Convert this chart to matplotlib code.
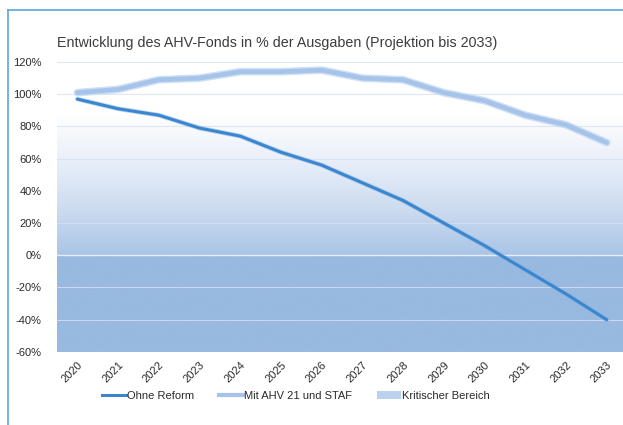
import numpy as np
import matplotlib
matplotlib.use("Agg")
import matplotlib.pyplot as plt
from matplotlib.colors import LinearSegmentedColormap
from matplotlib.patches import Patch
from matplotlib.lines import Line2D

plt.rcParams['font.family'] = ['Liberation Sans', 'DejaVu Sans']

# Daten
jahre = ['2020', '2021', '2022', '2023', '2024', '2025', '2026',
         '2027', '2028', '2029', '2030', '2031', '2032', '2033']
ohne_reform = [97, 91, 87, 79, 74, 64, 56, 45, 34, 20, 6, -9, -24, -40]
mit_ahv21_staf = [101, 103, 109, 110, 114, 114, 115, 110, 109, 101, 96, 87, 81, 70]
y_ticks = [-60, -40, -20, 0, 20, 40, 60, 80, 100, 120]

fig = plt.figure(figsize=(6.23, 4.25), dpi=100)
ax = fig.add_axes([0.0915, 0.172, 0.915, 0.682])

x = np.arange(len(jahre))
ax.set_xlim(-0.5, len(jahre) - 0.5)
ax.set_ylim(-60, 120)

# Kritischer Bereich: Verlauf von weiss (oben) nach blau (0% und darunter)
cmap = LinearSegmentedColormap.from_list('krit', ['#ffffff', '#e9eff9', '#cddcf0', '#aac5e7'])
yy = np.linspace(120, -60, 400)
vals = np.clip((88 - yy) / 88, 0, 1)
rgb = cmap(vals)
rgb[yy < 0] = matplotlib.colors.to_rgba('#98b9e0')
img = rgb[:, None, :]
ax.imshow(img, extent=[-0.5, len(jahre) - 0.5, -60, 120], aspect='auto', zorder=0)

# Gitternetz
for t in y_ticks:
    ax.axhline(t, color='#d6e1f1', lw=0.8, alpha=0.8, zorder=1)
ax.axhline(0, color='#e4ecf7', lw=1.0, zorder=1)

# Linien
ax.plot(x, mit_ahv21_staf, color='#c3d8f2', lw=5.5, alpha=0.8, solid_capstyle='round', zorder=2)
ax.plot(x, mit_ahv21_staf, color='#a6c4ea', lw=3.4, solid_capstyle='round', zorder=3)
ax.plot(x, ohne_reform, color='#7fb0e0', lw=3.4, alpha=0.5, solid_capstyle='round', zorder=3)
ax.plot(x, ohne_reform, color='#3b87cf', lw=2.2, solid_capstyle='round', zorder=4)

ax.set_xticks(x)
ax.set_xticklabels(jahre, rotation=45, ha='right', rotation_mode='anchor',
                   fontsize=8, color='#2a2a2a')
ax.set_yticks(y_ticks)
ax.set_yticklabels([f'{t}%' for t in y_ticks], fontsize=8, color='#2a2a2a')
ax.tick_params(axis='both', length=0)
ax.tick_params(axis='y', pad=11)
ax.tick_params(axis='x', pad=6)
for s in ax.spines.values():
    s.set_visible(False)

# Titel
fig.text(0.0915, 0.9, 'Entwicklung des AHV-Fonds in % der Ausgaben (Projektion bis 2033)',
         fontsize=10.3, color='#3c3c3c', ha='left', va='center')

# Legende
handles = [Line2D([], [], color='#3b87cf', lw=2.2),
           Line2D([], [], color='#a6c4ea', lw=3.0),
           Patch(facecolor='#bcd1ee', edgecolor='none')]
labels = ['Ohne Reform', 'Mit AHV 21 und STAF', 'Kritischer Bereich']
fig.legend(handles, labels, loc='center', bbox_to_anchor=(0.475, 0.068), ncol=3,
           frameon=False, fontsize=8, handlelength=2.2, handletextpad=0.1,
           columnspacing=2.2, labelcolor='#2a2a2a')

# Rahmen links und oben
fig.add_artist(Line2D([0.0128, 0.0128], [0, 0.977], color='#5aa7e0', lw=1.2,
                      transform=fig.transFigure))
fig.add_artist(Line2D([0.0128, 1.0], [0.977, 0.977], color='#5aa7e0', lw=1.2,
                      transform=fig.transFigure))

fig.savefig('out.png', dpi=100)
